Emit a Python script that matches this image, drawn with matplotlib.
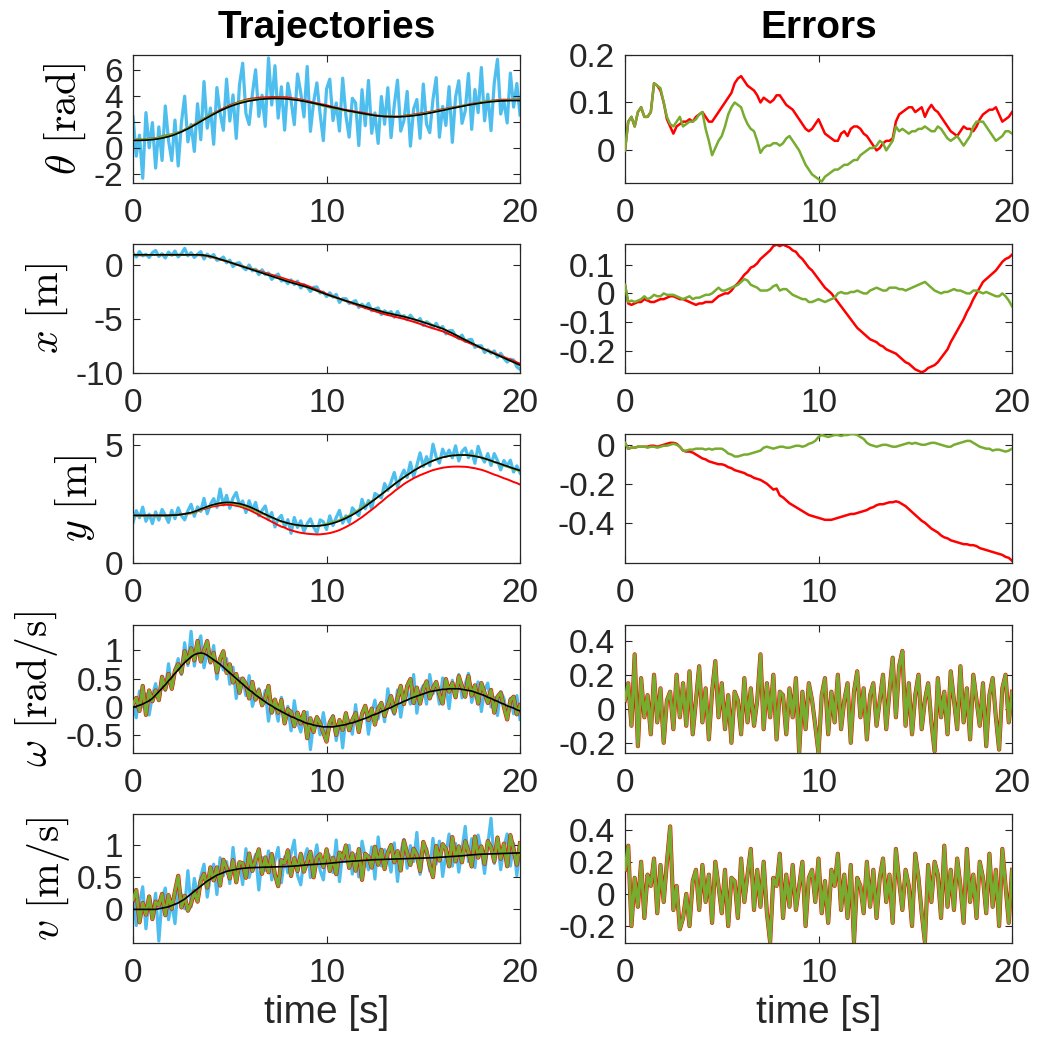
import numpy as np
import matplotlib
matplotlib.use("Agg")
import matplotlib.pyplot as plt

############################################################################
#                              Data (read off)                             #
############################################################################

T_END = 20.0     # seconds, 121 samples (dt = 1/6 s)

# true trajectories (black)
theta_true = [0.60, 0.60, 0.60, 0.61, 0.62, 0.64,  0.66, 0.69, 0.73, 0.77, 0.83, 0.89,
              0.96, 1.05, 1.15, 1.25, 1.37, 1.49,  1.62, 1.76, 1.90, 2.05, 2.19, 2.33,
              2.47, 2.60, 2.73, 2.86, 2.97, 3.08,  3.18, 3.27, 3.35, 3.43, 3.49, 3.55,
              3.61, 3.65, 3.69, 3.73, 3.75, 3.77,  3.79, 3.80, 3.80, 3.80, 3.79, 3.78,
              3.76, 3.73, 3.70, 3.67, 3.63, 3.59,  3.54, 3.49, 3.44, 3.39, 3.33, 3.28,
              3.22, 3.17, 3.11, 3.06, 3.01, 2.95,  2.90, 2.85, 2.81, 2.76, 2.71, 2.67,
              2.62, 2.58, 2.54, 2.50, 2.47, 2.45,  2.43, 2.42, 2.41, 2.40, 2.40, 2.41,
              2.42, 2.44, 2.46, 2.49, 2.52, 2.56,  2.60, 2.64, 2.69, 2.74, 2.79, 2.84,
              2.89, 2.94, 3.00, 3.05, 3.10, 3.15,  3.20, 3.25, 3.30, 3.34, 3.38, 3.42,
              3.46, 3.49, 3.52, 3.55, 3.57, 3.59,  3.61, 3.62, 3.63, 3.64, 3.64, 3.64,
              3.64]
x_true = [1.00, 1.00, 1.00, 1.00, 1.00, 1.00,  1.00, 1.00, 1.00, 1.00, 1.00, 1.00,
          1.00, 1.00, 1.00, 1.00, 1.00, 1.00,  1.00, 1.00, 1.00, 0.99, 0.96, 0.91,
          0.85, 0.77, 0.68, 0.58, 0.49, 0.40,  0.30, 0.20, 0.10, 0.00, -0.10, -0.20,
          -0.30, -0.40, -0.50, -0.60, -0.70, -0.80,  -0.90, -1.00, -1.10, -1.20, -1.30, -1.40,
          -1.50, -1.59, -1.68, -1.76, -1.85, -1.93,  -2.02, -2.13, -2.24, -2.35, -2.47, -2.58,
          -2.70, -2.80, -2.90, -3.00, -3.10, -3.20,  -3.30, -3.39, -3.49, -3.58, -3.67, -3.76,
          -3.85, -3.94, -4.03, -4.12, -4.21, -4.29,  -4.38, -4.45, -4.51, -4.58, -4.65, -4.71,
          -4.78, -4.86, -4.94, -5.02, -5.11, -5.20,  -5.30, -5.40, -5.50, -5.60, -5.70, -5.80,
          -5.90, -6.04, -6.19, -6.33, -6.49, -6.64,  -6.80, -6.95, -7.10, -7.25, -7.40, -7.55,
          -7.70, -7.83, -7.97, -8.10, -8.23, -8.37,  -8.50, -8.63, -8.77, -8.90, -9.03, -9.17,
          -9.30]
y_true = [2.00, 2.00, 2.00, 2.00, 2.00, 2.00,  2.00, 2.00, 2.00, 2.00, 2.00, 2.00,
          2.01, 2.01, 2.02, 2.04, 2.06, 2.09,  2.12, 2.16, 2.21, 2.27, 2.32, 2.37,
          2.42, 2.46, 2.49, 2.52, 2.54, 2.55,  2.55, 2.54, 2.52, 2.50, 2.46, 2.42,
          2.37, 2.31, 2.25, 2.18, 2.11, 2.05,  1.98, 1.92, 1.86, 1.80, 1.75, 1.71,
          1.67, 1.64, 1.61, 1.59, 1.57, 1.56,  1.55, 1.55, 1.55, 1.55, 1.56, 1.58,
          1.60, 1.63, 1.67, 1.71, 1.76, 1.82,  1.88, 1.95, 2.02, 2.10, 2.19, 2.28,
          2.38, 2.48, 2.58, 2.68, 2.79, 2.89,  3.00, 3.11, 3.21, 3.32, 3.42, 3.52,
          3.62, 3.71, 3.80, 3.89, 3.97, 4.05,  4.12, 4.19, 4.26, 4.32, 4.37, 4.42,
          4.46, 4.49, 4.52, 4.54, 4.55, 4.56,  4.56, 4.56, 4.55, 4.53, 4.51, 4.48,
          4.45, 4.41, 4.37, 4.32, 4.27, 4.23,  4.18, 4.13, 4.09, 4.04, 3.99, 3.95,
          3.90]
omega_true = [0.00, 0.01, 0.03, 0.05, 0.08, 0.11,  0.15, 0.21, 0.27, 0.33, 0.39, 0.46,
              0.52, 0.59, 0.65, 0.72, 0.78, 0.83,  0.88, 0.92, 0.94, 0.95, 0.94, 0.91,
              0.87, 0.83, 0.79, 0.75, 0.70, 0.65,  0.60, 0.55, 0.50, 0.45, 0.40, 0.35,
              0.30, 0.26, 0.21, 0.17, 0.13, 0.09,  0.05, 0.02, -0.02, -0.05, -0.08, -0.11,
              -0.14, -0.17, -0.19, -0.22, -0.24, -0.27,  -0.29, -0.30, -0.32, -0.33, -0.34, -0.35,
              -0.35, -0.35, -0.35, -0.34, -0.33, -0.32,  -0.31, -0.29, -0.28, -0.26, -0.24, -0.22,
              -0.20, -0.18, -0.15, -0.13, -0.11, -0.08,  -0.06, -0.03, -0.01, 0.02, 0.05, 0.07,
              0.10, 0.12, 0.15, 0.17, 0.19, 0.21,  0.23, 0.25, 0.27, 0.28, 0.29, 0.30,
              0.31, 0.31, 0.32, 0.32, 0.32, 0.32,  0.31, 0.30, 0.29, 0.28, 0.26, 0.24,
              0.22, 0.20, 0.17, 0.15, 0.12, 0.10,  0.07, 0.05, 0.02, 0.00, -0.02, -0.05,
              -0.07]
v_true = [0.00, 0.00, 0.00, 0.00, 0.00, 0.00,  0.00, 0.00, 0.01, 0.02, 0.03, 0.04,
          0.06, 0.08, 0.10, 0.13, 0.16, 0.20,  0.24, 0.28, 0.32, 0.36, 0.40, 0.44,
          0.47, 0.50, 0.53, 0.55, 0.57, 0.59,  0.60, 0.61, 0.62, 0.63, 0.635, 0.64,
          0.645, 0.647, 0.649, 0.65, 0.652, 0.654,  0.655, 0.657, 0.658, 0.66, 0.662, 0.663,
          0.665, 0.668, 0.672, 0.675, 0.68, 0.685,  0.69, 0.693, 0.697, 0.70, 0.703, 0.707,
          0.71, 0.715, 0.72, 0.725, 0.73, 0.735,  0.74, 0.743, 0.747, 0.75, 0.753, 0.757,
          0.76, 0.763, 0.767, 0.77, 0.772, 0.773,  0.775, 0.777, 0.778, 0.78, 0.782, 0.783,
          0.785, 0.787, 0.788, 0.79, 0.792, 0.793,  0.795, 0.797, 0.798, 0.80, 0.803, 0.807,
          0.81, 0.813, 0.817, 0.82, 0.823, 0.827,  0.83, 0.835, 0.84, 0.845, 0.848, 0.852,
          0.855, 0.857, 0.858, 0.86, 0.862, 0.863,  0.865, 0.867, 0.868, 0.87, 0.872, 0.873,
          0.875]

# measurement noise (blue minus black)
theta_meas_noise = [1.8, -1.2, 0.4, -2.9, 2.1, -0.6, 1.3, -2.2, 0.9, -1.7,
                    2.4, -0.3, -1.9, 1.1, -2.5, 0.7, 2.6, -1.0, 0.2, -2.0,
                    1.5, -1.4, 2.9, -0.8, 0.6, -2.3, 1.9, -0.2, -1.6, 2.2,
                    -1.1, 0.8, -2.6, 1.4, 3.0, -0.9, -1.8, 0.5, 2.3, -1.3,
                    0.3, -2.1, 3.1, -0.5, 2.5, -1.5, 0.9, -2.4, 1.2, -0.1,
                    -1.9, 2.0, 0.6, -1.2, 2.7, -2.2, 0.1, 1.6, -0.7, -2.7,
                    1.3, 2.1, -1.0, 0.4, -1.7, 2.4, -0.4, -2.0, 1.0, 0.7,
                    -2.5, 1.8, -0.9, 2.6, -1.4, 0.2, -2.1, 1.5, -0.6, 2.2,
                    -1.6, 0.9, 2.8, -1.1, -0.3, 1.9, -2.3, 0.5, 1.2, -1.8,
                    2.3, -0.8, -1.5, 1.0, 2.6, -2.0, 0.3, -1.2, 1.7, -2.6,
                    0.8, 2.0, -1.3, -0.4, 2.4, -1.9, 1.1, -0.7, 2.7, -1.4,
                    0.6, -2.2, 1.4, 3.2, -1.0, 0.0, -1.7, 2.1, -0.5, 1.3,
                    -1.1]
x_meas_noise = [0.15, -0.2, 0.3, -0.1, 0.05, -0.25, 0.2, 0.4, -0.15, 0.1,
                -0.3, 0.25, -0.05, 0.35, -0.2, 0.1, 0.6, -0.1, 0.2, -0.25,
                0.05, 0.3, -0.35, 0.15, -0.1, 0.25, -0.2, 0.0, 0.3, -0.15,
                0.2, -0.3, 0.1, 0.25, -0.05, -0.2, 0.35, -0.1, 0.15, -0.25,
                0.3, -0.05, 0.2, -0.3, 0.1, 0.4, -0.15, 0.05, -0.2, 0.25,
                -0.1, 0.3, -0.25, 0.15, 0.0, -0.3, 0.2, 0.35, -0.1, 0.1,
                -0.2, 0.25, -0.05, 0.3, -0.35, 0.1, 0.2, -0.15, 0.05, 0.3,
                -0.25, 0.15, -0.1, 0.4, -0.2, 0.05, 0.25, -0.3, 0.15, -0.05,
                0.2, -0.25, 0.35, -0.1, 0.1, -0.2, 0.3, 0.0, -0.15, 0.25,
                -0.3, 0.15, 0.05, -0.2, 0.3, -0.1, 0.2, -0.35, 0.1, 0.25,
                -0.05, -0.2, 0.3, -0.15, 0.15, 0.35, -0.25, 0.05, 0.2, -0.3,
                0.1, -0.1, 0.25, -0.2, 0.3, -0.05, -0.25, 0.15, 0.2, -0.3,
                -0.4]
y_meas_noise = [-0.3, 0.2, -0.1, 0.35, -0.25, 0.05, -0.35, 0.15, -0.2, 0.25,
                0.0, -0.3, 0.2, -0.15, 0.3, -0.05, -0.25, 0.1, 0.35, -0.2,
                0.15, -0.1, 0.4, -0.3, 0.05, 0.25, -0.15, 0.6, -0.1, 0.3,
                -0.25, 0.2, 0.45, -0.05, 0.15, -0.3, 0.25, -0.1, 0.3, -0.2,
                0.1, 0.35, -0.15, 0.2, -0.35, 0.05, 0.25, -0.2, 0.15, -0.4,
                0.3, -0.1, 0.2, -0.25, 0.1, 0.3, -0.05, -0.3, 0.25, 0.15,
                -0.2, 0.35, -0.1, 0.2, 0.45, -0.15, 0.1, -0.25, 0.3, 0.05,
                -0.2, 0.4, -0.1, 0.15, -0.3, 0.25, 0.05, -0.15, 0.35, -0.05,
                0.2, 0.5, -0.2, 0.1, 0.3, -0.1, 0.45, -0.25, 0.15, 0.6,
                -0.05, 0.3, -0.15, 0.7, 0.1, -0.2, 0.35, 0.0, 0.25, -0.1,
                0.4, -0.25, 0.15, 0.3, -0.1, 0.2, -0.3, 0.45, 0.05, -0.15,
                0.25, -0.2, 0.35, 0.1, -0.25, 0.2, 0.0, 0.3, -0.15, 0.15,
                -0.1]
omega_meas_noise = [0.1, -0.2, 0.25, -0.05, 0.15, -0.25, 0.05, 0.2, -0.15, 0.1,
                    -0.1, 0.3, -0.2, 0.05, 0.2, -0.15, 0.35, -0.1, 0.45, -0.2,
                    0.15, 0.3, -0.25, 0.05, -0.1, 0.25, -0.3, 0.1, -0.05, 0.2,
                    -0.2, 0.15, -0.35, 0.05, 0.1, -0.15, 0.25, -0.25, 0.0, 0.15,
                    -0.1, 0.2, -0.3, 0.1, 0.05, -0.2, 0.25, -0.1, 0.15, -0.25,
                    0.3, -0.05, -0.2, 0.1, 0.2, -0.45, 0.05, 0.15, -0.15, 0.25,
                    -0.1, 0.0, 0.2, -0.25, 0.1, -0.4, 0.15, 0.05, -0.2, 0.3,
                    -0.15, 0.1, 0.2, -0.3, 0.05, 0.25, -0.1, 0.15, -0.2, 0.35,
                    0.0, -0.15, 0.25, -0.25, 0.1, 0.2, -0.1, 0.4, -0.3, 0.05,
                    0.15, -0.2, 0.3, -0.05, 0.1, -0.25, 0.2, 0.05, -0.35, 0.15,
                    -0.1, 0.25, -0.15, 0.1, 0.3, -0.2, 0.0, 0.2, -0.3, 0.1,
                    0.25, -0.15, 0.05, -0.25, 0.2, 0.1, -0.2, 0.15, -0.1, 0.25,
                    -0.15]
v_meas_noise = [0.3, -0.25, 0.1, 0.35, -0.3, 0.2, -0.1, 0.25, -0.5, 0.15,
                0.3, -0.2, 0.05, -0.3, 0.25, 0.1, -0.15, 0.4, -0.2, 0.2,
                -0.1, 0.15, 0.3, -0.25, 0.05, 0.2, -0.3, 0.25, -0.05, 0.15,
                -0.2, 0.35, -0.1, 0.1, -0.25, 0.3, -0.15, 0.05, 0.2, -0.35,
                0.15, -0.05, 0.25, -0.2, 0.1, 0.3, -0.25, 0.15, -0.1, 0.2,
                0.4, -0.15, -0.3, 0.1, 0.25, -0.2, 0.05, 0.3, -0.1, -0.25,
                0.2, 0.1, -0.15, 0.35, -0.3, 0.15, 0.0, 0.25, -0.2, 0.1,
                -0.25, 0.3, 0.05, -0.15, 0.2, -0.3, 0.35, -0.1, 0.15, 0.05,
                -0.2, 0.25, -0.35, 0.1, 0.3, -0.15, 0.2, -0.05, 0.4, -0.25,
                0.1, 0.15, -0.2, 0.3, -0.1, 0.25, -0.3, 0.05, 0.35, -0.15,
                0.2, -0.25, 0.1, 0.45, -0.1, 0.25, -0.2, 0.3, 0.05, -0.3,
                0.15, 0.55, -0.15, 0.2, -0.25, 0.1, 0.3, -0.2, 0.15, -0.35,
                0.1]

# estimation errors (estimate minus true), red and green filters
theta_err_red = [0.00, 0.06, 0.07, 0.05, 0.08, 0.09,  0.07, 0.07, 0.08, 0.14, 0.135, 0.125,
                 0.10, 0.065, 0.05, 0.035, 0.05, 0.055,  0.06, 0.06, 0.065, 0.06, 0.07, 0.075,
                 0.08, 0.07, 0.06, 0.06, 0.07, 0.08,  0.09, 0.10, 0.11, 0.12, 0.14, 0.15,
                 0.155, 0.145, 0.135, 0.13, 0.125, 0.115,  0.10, 0.11, 0.105, 0.10, 0.105, 0.115,
                 0.115, 0.105, 0.095, 0.09, 0.085, 0.075,  0.065, 0.055, 0.045, 0.04, 0.045, 0.055,
                 0.065, 0.05, 0.035, 0.03, 0.025, 0.02,  0.02, 0.035, 0.04, 0.03, 0.045, 0.05,
                 0.05, 0.045, 0.035, 0.03, 0.02, 0.01,  0.0, 0.005, 0.015, 0.02, 0.02, 0.025,
                 0.06, 0.075, 0.08, 0.085, 0.09, 0.09,  0.08, 0.085, 0.09, 0.07, 0.085, 0.095,
                 0.085, 0.08, 0.07, 0.06, 0.05, 0.04,  0.035, 0.03, 0.04, 0.05, 0.045, 0.045,
                 0.04, 0.05, 0.065, 0.075, 0.08, 0.085,  0.085, 0.09, 0.075, 0.06, 0.065, 0.07,
                 0.08]
theta_err_green = [0.00, 0.06, 0.07, 0.05, 0.08, 0.09,  0.07, 0.07, 0.08, 0.14, 0.135, 0.13,
                   0.10, 0.07, 0.055, 0.05, 0.06, 0.07,  0.05, 0.055, 0.06, 0.06, 0.065, 0.075,
                   0.08, 0.045, 0.02, -0.01, 0.005, 0.02,  0.03, 0.05, 0.075, 0.09, 0.10, 0.095,
                   0.09, 0.07, 0.055, 0.045, 0.04, 0.02,  -0.005, 0.005, 0.01, 0.01, 0.015, 0.015,
                   0.01, 0.015, 0.025, 0.03, 0.02, 0.01,  0.0, -0.015, -0.03, -0.04, -0.05, -0.055,
                   -0.06, -0.065, -0.055, -0.05, -0.045, -0.04,  -0.04, -0.035, -0.03, -0.03, -0.025, -0.02,
                   -0.02, -0.01, -0.005, 0.0, 0.005, 0.005,  0.01, 0.02, 0.015, 0.0, 0.01, 0.02,
                   0.05, 0.04, 0.045, 0.04, 0.035, 0.04,  0.04, 0.045, 0.045, 0.05, 0.045, 0.04,
                   0.04, 0.05, 0.045, 0.035, 0.025, 0.02,  0.025, 0.03, 0.02, 0.01, 0.02, 0.03,
                   0.05, 0.06, 0.06, 0.06, 0.05, 0.04,  0.03, 0.02, 0.025, 0.03, 0.04, 0.04,
                   0.035]
x_err_red = [0.03, -0.035, -0.04, -0.035, -0.03, -0.03,  -0.02, -0.025, -0.03, -0.03, -0.025, -0.02,
             -0.02, -0.015, -0.01, -0.01, -0.015, -0.02,  -0.02, -0.025, -0.03, -0.035, -0.04, -0.035,
             -0.035, -0.03, -0.03, -0.03, -0.02, -0.01,  -0.005, 0.0, 0.0, 0.01, 0.025, 0.035,
             0.05, 0.065, 0.075, 0.09, 0.095, 0.105,  0.12, 0.13, 0.14, 0.15, 0.165, 0.17,
             0.165, 0.17, 0.165, 0.16, 0.15, 0.145,  0.13, 0.12, 0.105, 0.09, 0.08, 0.065,
             0.05, 0.035, 0.02, 0.01, 0.0, -0.015,  -0.03, -0.045, -0.06, -0.075, -0.09, -0.105,
             -0.12, -0.13, -0.14, -0.15, -0.16, -0.165,  -0.17, -0.18, -0.185, -0.195, -0.2, -0.205,
             -0.21, -0.22, -0.23, -0.24, -0.245, -0.255,  -0.265, -0.27, -0.275, -0.27, -0.26, -0.255,
             -0.25, -0.24, -0.225, -0.21, -0.195, -0.17,  -0.15, -0.13, -0.11, -0.09, -0.065, -0.045,
             -0.02, 0.0, 0.02, 0.04, 0.05, 0.06,  0.07, 0.08, 0.095, 0.11, 0.12, 0.125,
             0.135]
x_err_green = [0.03, -0.03, -0.025, -0.03, -0.025, -0.02,  -0.01, -0.02, -0.015, -0.005, -0.01, -0.01,
               0.0, -0.005, -0.005, -0.005, -0.01, -0.015,  -0.02, -0.015, -0.01, -0.02, -0.015, -0.015,
               -0.01, -0.005, -0.005, 0.0, 0.01, 0.02,  0.01, 0.01, 0.015, 0.02, 0.025, 0.03,
               0.04, 0.05, 0.045, 0.03, 0.025, 0.02,  0.01, 0.01, 0.01, 0.015, 0.025, 0.03,
               0.01, 0.015, 0.015, 0.005, -0.005, -0.01,  -0.015, -0.02, -0.02, -0.03, -0.03, -0.025,
               -0.02, -0.025, -0.03, -0.025, -0.02, -0.015,  0.0, 0.005, 0.0, 0.0, 0.005, 0.005,
               0.01, 0.005, 0.0, 0.0, 0.01, 0.015,  0.02, 0.015, 0.01, 0.01, 0.02, 0.02,
               0.02, 0.015, 0.015, 0.01, 0.015, 0.02,  0.025, 0.03, 0.035, 0.04, 0.03, 0.02,
               0.01, 0.005, 0.0, 0.005, 0.005, 0.01,  0.015, 0.01, 0.01, 0.005, 0.0, 0.0,
               0.01, 0.01, 0.005, 0.0, 0.005, 0.0,  -0.005, -0.01, -0.01, 0.0, -0.01, -0.025,
               -0.045]
y_err_red = [0.01, -0.02, -0.015, -0.015, -0.01, -0.01,  -0.01, -0.01, -0.005, -0.005, -0.01, -0.005,
             0.0, 0.005, 0.01, 0.01, 0.005, -0.01,  -0.03, -0.035, -0.035, -0.04, -0.05, -0.06,
             -0.07, -0.075, -0.085, -0.09, -0.095, -0.1,  -0.1, -0.105, -0.115, -0.12, -0.13, -0.135,
             -0.14, -0.145, -0.155, -0.16, -0.17, -0.175,  -0.18, -0.19, -0.2, -0.215, -0.23, -0.225,
             -0.26, -0.27, -0.285, -0.3, -0.31, -0.32,  -0.33, -0.34, -0.35, -0.36, -0.365, -0.37,
             -0.375, -0.38, -0.385, -0.385, -0.385, -0.38,  -0.375, -0.37, -0.365, -0.36, -0.355, -0.355,
             -0.35, -0.345, -0.34, -0.335, -0.325, -0.32,  -0.31, -0.305, -0.305, -0.3, -0.295, -0.295,
             -0.29, -0.295, -0.305, -0.315, -0.33, -0.345,  -0.36, -0.375, -0.39, -0.4, -0.415, -0.43,
             -0.44, -0.45, -0.465, -0.475, -0.48, -0.49,  -0.495, -0.5, -0.505, -0.51, -0.51, -0.515,
             -0.515, -0.52, -0.53, -0.535, -0.54, -0.545,  -0.55, -0.555, -0.56, -0.565, -0.575, -0.58,
             -0.595]
y_err_green = [0.01, -0.02, -0.015, -0.015, -0.01, -0.01,  -0.01, -0.015, -0.01, -0.01, -0.015, -0.01,
               -0.005, -0.005, 0.0, 0.005, 0.0, -0.01,  -0.03, -0.03, -0.025, -0.025, -0.02, -0.02,
               -0.02, -0.025, -0.02, -0.025, -0.02, -0.02,  -0.02, -0.03, -0.045, -0.05, -0.06, -0.06,
               -0.055, -0.05, -0.05, -0.045, -0.04, -0.035,  -0.03, -0.015, -0.01, -0.015, -0.02, -0.015,
               -0.01, -0.01, -0.015, -0.015, -0.01, -0.005,  -0.005, -0.01, -0.005, 0.005, 0.01, 0.02,
               0.04, 0.05, 0.045, 0.04, 0.045, 0.05,  0.05, 0.045, 0.05, 0.05, 0.055, 0.055,
               0.05, 0.04, 0.03, 0.01, 0.0, -0.005,  -0.01, -0.005, 0.0, 0.0, -0.005, -0.01,
               -0.01, -0.005, 0.0, 0.005, 0.01, 0.005,  0.01, 0.005, 0.0, 0.0, 0.005, 0.01,
               0.01, 0.005, 0.0, -0.005, -0.01, -0.01,  0.0, 0.005, 0.01, 0.015, 0.02, 0.02,
               0.01, 0.0, -0.01, -0.015, -0.02, -0.02,  -0.03, -0.025, -0.025, -0.03, -0.035, -0.03,
               -0.02]
# omega / v errors: red and green coincide to within a pixel, red only shows as a rim
omega_err = [0.05, 0.15, -0.1, 0.32, -0.22, 0.18, -0.05, 0.08, -0.15, 0.2,
             -0.08, 0.12, -0.2, 0.05, 0.1, -0.12, 0.2, -0.05, 0.15, -0.1,
             0.22, -0.15, 0.05, 0.25, -0.08, 0.12, -0.18, 0.1, 0.28, -0.05,
             0.15, -0.12, 0.08, -0.2, 0.1, 0.05, -0.15, 0.18, -0.08, 0.12,
             -0.1, 0.05, 0.32, -0.12, 0.15, -0.05, 0.2, -0.18, 0.1, 0.08,
             -0.15, 0.12, -0.05, 0.18, -0.26, 0.1, -0.12, 0.15, 0.05, -0.1,
             -0.26, 0.08, 0.18, -0.15, 0.1, -0.08, 0.2, -0.12, 0.05, 0.15,
             -0.2, 0.1, 0.22, -0.05, 0.12, -0.18, 0.08, 0.15, -0.1, 0.05,
             0.2, -0.12, 0.1, 0.3, -0.05, 0.25, 0.34, -0.1, 0.15, -0.15,
             0.08, 0.2, -0.12, 0.05, 0.15, -0.08, -0.25, 0.18, -0.05, 0.1,
             -0.15, 0.22, 0.05, -0.12, 0.25, -0.08, 0.12, -0.18, 0.2, 0.05,
             -0.1, 0.15, -0.22, 0.08, 0.18, -0.05, -0.24, 0.12, 0.2, -0.08,
             0.1]
v_err = [0.15, 0.3, -0.2, 0.1, -0.08, 0.2, -0.15, 0.12, 0.05, 0.22,
         -0.12, 0.18, -0.05, 0.2, 0.42, -0.1, 0.05, -0.22, -0.15, 0.0,
         -0.2, 0.08, 0.15, -0.1, 0.18, -0.05, 0.12, -0.18, 0.2, 0.05,
         -0.12, 0.15, -0.2, 0.1, 0.08, -0.15, 0.22, -0.05, 0.12, 0.28,
         -0.1, 0.15, -0.08, 0.2, -0.12, -0.3, 0.1, 0.05, 0.25, -0.15,
         0.12, -0.08, 0.18, -0.1, 0.05, 0.2, -0.2, 0.1, 0.15, -0.05,
         0.22, -0.12, 0.08, -0.18, 0.15, 0.05, 0.25, -0.1, 0.12, -0.15,
         0.18, -0.3, 0.1, 0.05, -0.12, 0.2, -0.08, 0.15, -0.15, 0.1,
         0.22, -0.05, 0.12, -0.18, 0.28, 0.08, -0.1, 0.15, 0.05, -0.2,
         0.25, 0.1, -0.12, -0.3, 0.18, -0.05, 0.2, 0.12, -0.15, 0.3,
         -0.08, 0.15, -0.1, 0.22, 0.05, -0.18, 0.28, -0.05, 0.12, -0.15,
         0.2, 0.1, -0.12, 0.25, -0.08, 0.15, -0.2, 0.28, 0.05, -0.18,
         0.15]

# axes settings
x_ticks = [0, 10, 20]
left_ylabels = [r'$\theta\ [\mathrm{rad}]$', r'$x\ [\mathrm{m}]$', r'$y\ [\mathrm{m}]$',
                r'$\omega\ [\mathrm{rad/s}]$', r'$v\ [\mathrm{m/s}]$']
left_ylims = [(-2.65, 7.15), (-10, 2.0), (0, 5.45), (-0.81, 1.45), (-0.52, 1.47)]
left_yticks = [[-2, 0, 2, 4, 6], [-10, -5, 0], [0, 5], [-0.5, 0, 0.5, 1], [0, 0.5, 1]]
right_ylims = [(-0.068, 0.2), (-0.276, 0.172), (-0.604, 0.055), (-0.26, 0.495), (-0.305, 0.494)]
right_yticks = [[0, 0.1, 0.2], [-0.2, -0.1, 0, 0.1], [-0.4, -0.2, 0], [-0.2, 0, 0.2, 0.4],
                [-0.2, 0, 0.2, 0.4]]

############################################################################
#                              Program Start                               #
############################################################################

plt.rcParams['font.family'] = ['Liberation Sans', 'DejaVu Sans']
plt.rcParams['mathtext.fontset'] = 'cm'
plt.rcParams['axes.unicode_minus'] = False

C_BLUE = '#4DBEEE'
C_RED = '#FF0000'
C_GREEN = '#77AC30'
C_AX = '#262626'

n = len(theta_true)
t = np.linspace(0, T_END, n)

true_list = [theta_true, x_true, y_true, omega_true, v_true]
meas_noise = [theta_meas_noise, x_meas_noise, y_meas_noise, omega_meas_noise, v_meas_noise]
err_red = [theta_err_red, x_err_red, y_err_red, omega_err, v_err]
err_green = [theta_err_green, x_err_green, y_err_green, omega_err, v_err]

fig = plt.figure(figsize=(10.37, 10.53), dpi=100)

row_bottoms = [0.8262, 0.6462, 0.4658, 0.2849, 0.1045]
row_h = 0.1220
col_left = [0.1283, 0.6027]
col_w = 0.3732


def style_axes(ax, ylim, yticks):
    ax.set_xlim(0, T_END)
    ax.set_ylim(*ylim)
    ax.set_xticks(x_ticks)
    ax.set_xticklabels([f'{v:g}' for v in x_ticks])
    ax.set_yticks(yticks)
    ax.set_yticklabels([f'{v:g}' for v in yticks])
    ax.tick_params(direction='in', top=True, right=True, length=5, width=0.8,
                   colors=C_AX, labelsize=24, labelcolor=C_AX)
    ax.tick_params(axis='x', pad=11)
    ax.tick_params(axis='y', pad=7)
    for s in ax.spines.values():
        s.set_color(C_AX)
        s.set_linewidth(0.9)


for i in range(5):
    tr = np.asarray(true_list[i])
    er = np.asarray(err_red[i])
    eg = np.asarray(err_green[i])
    meas = tr + np.asarray(meas_noise[i])
    thick = i >= 3   # noisy rates: red shows as a rim round the green

    # left: trajectories
    ax = fig.add_axes([col_left[0], row_bottoms[i], col_w, row_h])
    ax.plot(t, meas, color=C_BLUE, lw=2.3, zorder=1)
    ax.plot(t, tr + er, color=C_RED, lw=3.0 if thick else 1.4, zorder=2)
    ax.plot(t, tr + eg, color=C_GREEN, lw=2.2 if thick else 1.4, zorder=3)
    ax.plot(t, tr, color='k', lw=1.2, zorder=4)
    style_axes(ax, left_ylims[i], left_yticks[i])
    ax.set_ylabel(left_ylabels[i], fontsize=30, labelpad=4)
    if i == 0:
        ax.set_title('Trajectories', fontsize=28, fontweight='bold', pad=12)
    if i == 4:
        ax.set_xlabel('time [s]', fontsize=28, color=C_AX, labelpad=4)

    # right: errors
    ax = fig.add_axes([col_left[1], row_bottoms[i], col_w, row_h])
    ax.plot(t, er, color=C_RED, lw=3.0 if thick else 1.8, zorder=2)
    ax.plot(t, eg, color=C_GREEN, lw=2.3 if thick else 1.8, zorder=3)
    style_axes(ax, right_ylims[i], right_yticks[i])
    if i == 0:
        ax.set_title('Errors', fontsize=28, fontweight='bold', pad=12)
    if i == 4:
        ax.set_xlabel('time [s]', fontsize=28, color=C_AX, labelpad=4)

fig.savefig('out.png', dpi=100)
